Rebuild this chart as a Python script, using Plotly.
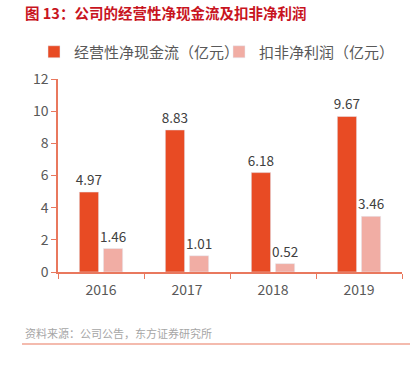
import plotly.graph_objects as go

years = ["2016", "2017", "2018", "2019"]
cash_flow = [4.97, 8.83, 6.18, 9.67]
net_profit = [1.46, 1.01, 0.52, 3.46]
series_names = ["经营性净现金流（亿元）", "扣非净利润（亿元）"]
y_ticks = [0, 2, 4, 6, 8, 10, 12]

FONT = "Noto Sans CJK SC, Liberation Sans, sans-serif"
AXIS_COLOR = "#E9785E"

W, H = 420, 366
L, R, T, B = 58, 18, 79, 94

fig = go.Figure()
fig.add_trace(go.Bar(
    x=years, y=cash_flow, name=series_names[0],
    marker=dict(color="#E84B24"),
    text=[f"{v:.2f}" for v in cash_flow], textposition="outside",
    constraintext="none",
    textfont=dict(size=13.5, color="#404040"), cliponaxis=False,
    legend="legend",
))
fig.add_trace(go.Bar(
    x=years, y=net_profit, name=series_names[1],
    marker=dict(color="#F1ADA4"),
    text=[f"{v:.2f}" for v in net_profit], textposition="outside",
    constraintext="none",
    textfont=dict(size=13.5, color="#404040"), cliponaxis=False,
    legend="legend2",
))

legend_common = dict(orientation="h", xref="container", yref="container",
                     xanchor="left", yanchor="middle",
                     font=dict(size=15, color="#595959"), itemwidth=30,
                     bgcolor="rgba(0,0,0,0)")

fig.update_layout(
    width=W, height=H,
    margin=dict(l=L, r=R, t=T, b=B, autoexpand=False),
    paper_bgcolor="white", plot_bgcolor="white",
    font=dict(family=FONT, color="#595959"),
    barmode="group", bargap=0.44, bargroupgap=0.2,
    showlegend=True,
    legend=dict(legend_common, x=34 / W, y=1 - 52 / H),
    legend2=dict(legend_common, x=219 / W, y=1 - 52 / H),
    xaxis=dict(showline=True, linecolor=AXIS_COLOR, linewidth=1.5,
               ticks="outside", tickcolor=AXIS_COLOR, ticklen=5,
               tickson="boundaries", tickfont=dict(size=14, color="#595959"),
               ticklabelstandoff=4,
               showgrid=False, fixedrange=True),
    yaxis=dict(range=[0, 12], tickvals=y_ticks, showline=True, linecolor=AXIS_COLOR,
               linewidth=1.5, ticks="outside", tickcolor=AXIS_COLOR, ticklen=5,
               tickfont=dict(size=14, color="#595959"), showgrid=False,
               zeroline=False),
)

ph = H - T - B
pw = W - L - R
def px_x(x): return (x - L) / pw
def px_y(y): return (H - B - y) / ph

fig.add_annotation(text="<b>图 13：公司的经营性净现金流及扣非净利润</b>", xref="paper", yref="paper",
                   x=px_x(23), y=px_y(12), xanchor="left", yanchor="middle", showarrow=False,
                   font=dict(size=14.5, color="#C8141E", family=FONT))
fig.add_annotation(text="资料来源：公司公告，东方证券研究所", xref="paper", yref="paper",
                   x=px_x(23), y=px_y(333), xanchor="left", yanchor="middle", showarrow=False,
                   font=dict(size=11, color="#A6A6A6", family=FONT))
fig.add_shape(type="line", xref="paper", yref="paper",
              x0=px_x(22), x1=px_x(410), y0=px_y(344), y1=px_y(344),
              line=dict(color="#E9785E", width=1.2))

fig.write_html("out.html", config={"displayModeBar": False},
               post_script="document.body.style.margin='0';")
